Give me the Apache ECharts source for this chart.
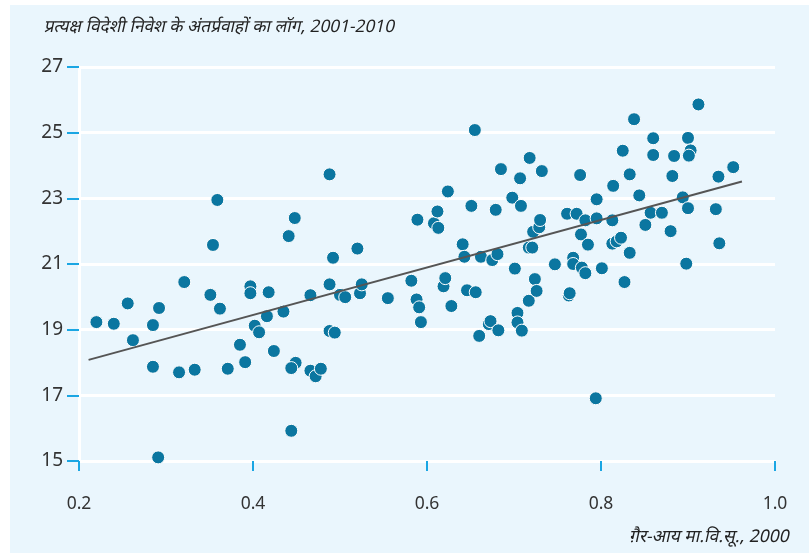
<!DOCTYPE html>
<html>
<head>
<meta charset="utf-8">
<script src="https://cdn.jsdelivr.net/npm/echarts@6/dist/echarts.min.js"></script>
<style>
  html, body { margin: 0; padding: 0; background: #fff; }
  #chart { width: 809px; height: 553px; }
</style>
</head>
<body>
<div id="chart"></div>
<script>
// non-income HDI, 2000 (x)
const nonIncomeHdi = [
  0.220, 0.240, 0.256, 0.262, 0.285, 0.285, 0.291, 0.292, 0.315, 0.321,
  0.333, 0.351, 0.354, 0.359, 0.362, 0.371, 0.385, 0.391, 0.397, 0.397,
  0.402, 0.407, 0.416, 0.418, 0.424, 0.435, 0.441, 0.444, 0.448, 0.449,
  0.444, 0.466, 0.466, 0.472, 0.478, 0.488, 0.492, 0.488, 0.488, 0.494,
  0.500, 0.506, 0.520, 0.523, 0.525, 0.555, 0.582, 0.588, 0.589, 0.591,
  0.593, 0.608, 0.612, 0.613, 0.619, 0.621, 0.624, 0.628, 0.641, 0.643,
  0.646, 0.651, 0.656, 0.655, 0.660, 0.662, 0.671, 0.673, 0.675, 0.681,
  0.679, 0.682, 0.685, 0.698, 0.701, 0.704, 0.704, 0.709, 0.707, 0.708,
  0.717, 0.721, 0.717, 0.718, 0.722, 0.729, 0.730, 0.724, 0.726, 0.732,
  0.747, 0.761, 0.763, 0.764, 0.768, 0.768, 0.772, 0.776, 0.777, 0.778,
  0.782, 0.782, 0.785, 0.794, 0.795, 0.795, 0.801, 0.813, 0.813, 0.814,
  0.818, 0.823, 0.825, 0.827, 0.833, 0.833, 0.838, 0.844, 0.851, 0.857,
  0.860, 0.860, 0.870, 0.880, 0.882, 0.884, 0.894, 0.898, 0.900, 0.900,
  0.903, 0.901, 0.912, 0.932, 0.935, 0.936, 0.952
];
// log of FDI inflows, 2001-2010 (y)
const logFdiInflows = [
  19.23, 19.18, 19.80, 18.68, 19.14, 17.87, 15.11, 19.66, 17.70, 20.45,
  17.78, 20.06, 21.58, 22.95, 19.64, 17.81, 18.54, 18.01, 20.32, 20.11,
  19.12, 18.92, 19.41, 20.14, 18.35, 19.55, 21.85, 15.92, 22.40, 17.99,
  17.83, 20.05, 17.75, 17.58, 17.81, 23.73, 21.19, 20.38, 18.96, 18.91,
  20.06, 19.99, 21.47, 20.11, 20.38, 19.96, 20.49, 19.92, 22.35, 19.68,
  19.23, 22.24, 22.60, 22.10, 20.32, 20.57, 23.21, 19.72, 21.60, 21.22,
  20.20, 22.77, 20.14, 25.08, 18.81, 21.22, 19.17, 19.26, 21.12, 21.30,
  22.65, 18.98, 23.89, 23.02, 20.86, 19.51, 19.22, 18.97, 23.61, 22.77,
  21.50, 21.50, 19.88, 24.23, 21.98, 22.12, 22.34, 20.54, 20.18, 23.83,
  20.99, 22.53, 20.04, 20.11, 21.19, 21.00, 22.53, 23.71, 21.90, 20.89,
  20.72, 22.33, 21.59, 16.91, 22.97, 22.39, 20.87, 22.33, 21.62, 23.38,
  21.69, 21.80, 24.45, 20.45, 23.73, 21.34, 25.41, 23.09, 22.19, 22.56,
  24.83, 24.32, 22.56, 22.00, 23.68, 24.29, 23.03, 21.01, 24.84, 22.70,
  24.46, 24.30, 25.86, 22.67, 23.66, 21.63, 23.95
];
const trendX = [0.211, 0.962];
const trendY = [18.08, 23.51];

const titleText = "प्रत्यक्ष विदेशी निवेश के अंतर्प्रवाहों का लॉग, 2001-2010";
const xAxisName = "ग़ैर-आय मा.वि.सू., 2000";

const chart = echarts.init(document.getElementById("chart"));

const tickColor = "#1ba6e3";
const fontFamily = "'Noto Sans', 'Noto Sans Devanagari', sans-serif";

const option = {
  backgroundColor: "#fff",
  animation: false,
  textStyle: { fontFamily },
  graphic: [
    {
      type: "rect",
      left: 10,
      top: 5,
      z: -10,
      shape: { width: 799, height: 548 },
      style: { fill: "#eaf6fd" },
      silent: true,
    },
    {
      // title, slanted by hand since Devanagari has no italic face here
      type: "text",
      x: 44,
      y: 19,
      skewX: -0.22,
      originX: 0,
      originY: 12,
      style: {
        text: titleText,
        fontSize: 17.3,
        fontFamily,
        fill: "#222",
      },
    },
    {
      type: "text",
      x: 630,
      y: 528,
      skewX: -0.22,
      originX: 0,
      originY: 10,
      style: {
        text: xAxisName,
        fontSize: 17.5,
        fontFamily,
        fill: "#222",
      },
    },
  ],
  grid: {
    left: 79,
    right: 34,
    top: 67,
    bottom: 92,
  },
  xAxis: {
    type: "value",
    min: 0.2,
    max: 1.0,
    interval: 0.2,
    axisLine: { show: true, lineStyle: { color: "#fff", width: 3 } },
    axisTick: { show: true, length: 10, lineStyle: { color: tickColor, width: 2 } },
    axisLabel: {
      margin: 34,
      fontSize: 17.5,
      color: "#333",
      formatter: (v) => v.toFixed(1),
    },
    splitLine: { show: false },
  },
  yAxis: {
    type: "value",
    min: 15,
    max: 27,
    interval: 2,
    axisLine: { show: true, lineStyle: { color: "#fff", width: 3 } },
    axisTick: { show: true, length: 12, lineStyle: { color: tickColor, width: 2 } },
    axisLabel: { margin: 16, fontSize: 19, color: "#333" },
    splitLine: { show: true, lineStyle: { color: "#fff", width: 3 } },
  },
  series: [
    {
      type: "scatter",
      symbolSize: 13,
      data: nonIncomeHdi.map((x, i) => [x, logFdiInflows[i]]),
      itemStyle: { color: "#0b76a0", borderColor: "#fff", borderWidth: 1, opacity: 1 },
      z: 2,
    },
    {
      type: "line",
      data: trendX.map((x, i) => [x, trendY[i]]),
      showSymbol: false,
      lineStyle: { color: "#555", width: 2 },
      z: 3,
    },
  ],
};

chart.setOption(option);
</script>
</body>
</html>
